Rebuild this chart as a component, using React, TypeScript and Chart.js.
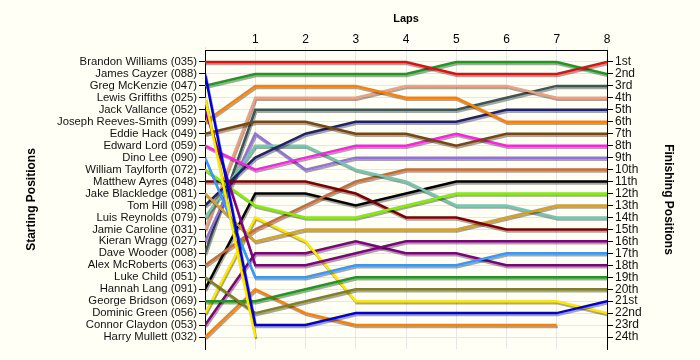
import React, { useEffect, useRef } from "react";
import { Chart, registerables } from "chart.js";

Chart.register(...registerables);

const laps = [0, 1, 2, 3, 4, 5, 6, 7, 8];
const lapLabels = ["", "1", "2", "3", "4", "5", "6", "7", "8"];

const drivers = [
  "Brandon Williams (035)",
  "James Cayzer (088)",
  "Greg McKenzie (047)",
  "Lewis Griffiths (025)",
  "Jack Vallance (052)",
  "Joseph Reeves-Smith (099)",
  "Eddie Hack (049)",
  "Edward Lord (059)",
  "Dino Lee (090)",
  "William Taylforth (072)",
  "Matthew Ayres (048)",
  "Jake Blackledge (081)",
  "Tom Hill (098)",
  "Luis Reynolds (079)",
  "Jamie Caroline (031)",
  "Kieran Wragg (027)",
  "Dave Wooder (008)",
  "Alex McRoberts (063)",
  "Luke Child (051)",
  "Hannah Lang (091)",
  "George Bridson (069)",
  "Dominic Green (056)",
  "Connor Claydon (053)",
  "Harry Mullett (032)",
];

const finishLabels = [
  "1st", "2nd", "3rd", "4th", "5th", "6th", "7th", "8th", "9th", "10th", "11th", "12th",
  "13th", "14th", "15th", "16th", "17th", "18th", "19th", "20th", "21st", "22nd", "23rd", "24th",
];

const colors = [
  "#e01010", "#0000dd", "#1c9a1c", "#ffe800", "#800080", "#ff8000",
  "#7a4510", "#ff20e8", "#3399ff", "#80f000", "#800000", "#d8a020",
  "#202070", "#70c8b0", "#f0a080", "#9370db", "#3d5555", "#cc6a30",
  "#808020", "#000000", "#1c9a1c", "#ffe800", "#800080", "#ff8000",
];

// positions per lap (0..8), null = retired
const brandon = [1, 1, 1, 1, 1, 2, 2, 2, 1];
const james = [2, 23, 23, 22, 22, 22, 22, 22, 21];
const greg = [3, 2, 2, 2, 2, 1, 1, 1, 2];
const lewis = [4, 24, null, null, null, null, null, null, null];
const jack = [5, 18, 18, 17, 16, 16, 16, 16, 16];
const joseph = [6, 3, 3, 3, 4, 4, 6, 6, 6];
const eddie = [7, 6, 6, 7, 7, 8, 7, 7, 7];
const edward = [8, 10, 9, 8, 8, 7, 8, 8, 8];
const dino = [9, 19, 19, 18, 18, 18, 17, 17, 17];
const william = [10, 13, 14, 14, 13, 12, 12, 12, 12];
const matthew = [11, 11, 11, 12, 14, 14, 15, 15, 15];
const jake = [12, 16, 15, 15, 15, 15, 14, 13, 13];
const tom = [13, 9, 7, 6, 6, 6, 5, 5, 5];
const luis = [14, 8, 8, 10, 11, 13, 13, 14, 14];
const jamie = [15, 4, 4, 4, 3, 3, 3, 4, 4];
const kieran = [16, 7, 10, 9, 9, 9, 9, 9, 9];
const dave = [17, 5, 5, 5, 5, 5, 4, 3, 3];
const alex = [18, 15, 13, 11, 10, 10, 10, 10, 10];
const luke = [19, 22, 21, 20, 20, 20, 20, 20, 20];
const hannah = [20, 12, 12, 13, 12, 11, 11, 11, 11];
const george = [21, 21, 20, 19, 19, 19, 19, 19, 19];
const dominic = [22, 14, 16, 21, 21, 21, 21, 21, 22];
const connor = [23, 17, 17, 16, 17, 17, 18, 18, 18];
const harry = [24, 20, 22, 23, 23, 23, 23, 23, null];

const series = [
  brandon, james, greg, lewis, jack, joseph, eddie, edward, dino, william, matthew, jake,
  tom, luis, jamie, kieran, dave, alex, luke, hannah, george, dominic, connor, harry,
];

const FONT = "'Liberation Sans', Arial, sans-serif";

const shadowPlugin = {
  id: "lineShadow",
  beforeDatasetsDraw(chart: any) {
    const ctx = chart.ctx;
    ctx.save();
    ctx.shadowColor = "rgba(0,0,0,0.35)";
    ctx.shadowOffsetX = 1;
    ctx.shadowOffsetY = 2;
    ctx.shadowBlur = 0;
  },
  afterDatasetsDraw(chart: any) {
    chart.ctx.restore();
  },
};

const bgPlugin = {
  id: "bg",
  beforeDraw(chart: any) {
    const ctx = chart.ctx;
    ctx.save();
    ctx.fillStyle = "#fffff5";
    ctx.fillRect(0, 0, chart.width, chart.height);
    ctx.restore();
  },
};

export default function App() {
  const ref = useRef<HTMLCanvasElement>(null);

  useEffect(() => {
    if (!ref.current) return;
    const datasets = series.map((d, i) => ({
      label: drivers[i],
      data: laps.map((l, j) => ({ x: l, y: d[j] })),
      borderColor: colors[i],
      backgroundColor: colors[i],
      borderWidth: 2.5,
      pointRadius: 0,
      tension: 0,
      fill: false,
      spanGaps: false,
      yAxisID: "y",
    }));
    const chart = new Chart(ref.current, {
      type: "line",
      data: { datasets },
      plugins: [bgPlugin, shadowPlugin],
      options: {
        animation: false,
        responsive: false,
        layout: { padding: { top: 0, bottom: 11, left: 0, right: 0 } },
        plugins: {
          legend: { display: false },
          tooltip: { enabled: false },
          title: { display: false },
        },
        scales: {
          x: {
            type: "linear",
            position: "top",
            min: 0,
            max: 8,
            ticks: {
              stepSize: 1,
              color: "#000",
              font: { family: FONT, size: 12 },
              padding: 0,
              callback: (v: any) => (v === 0 ? "" : lapLabels[v]),
            },
            grid: { color: "#e6e6e6", drawTicks: true, tickLength: 3, tickColor: "#e6e6e6" },
            border: { color: "#000", width: 1 },
            title: {
              display: true,
              text: "Laps",
              color: "#000",
              font: { family: FONT, size: 11, weight: "bold" },
              padding: { top: 12, bottom: 2 },
            },
            afterFit: (s: any) => {
              s.height = 50;
            },
          },
          y: {
            type: "linear",
            position: "left",
            reverse: true,
            min: 0,
            max: 25,
            ticks: {
              stepSize: 1,
              autoSkip: false,
              color: "#111",
              font: { family: FONT, size: 11.3 },
              padding: 2,
              callback: (v: any) => (v >= 1 && v <= 24 ? drivers[v - 1] : null),
            },
            grid: { color: "#e6e6e6", tickLength: 6, tickColor: "#000" },
            border: { color: "#000", width: 1 },
            title: {
              display: true,
              text: "Starting Positions",
              color: "#000",
              font: { family: FONT, size: 12, weight: "bold" },
              padding: { top: 24, bottom: 4 },
            },
            afterFit: (s: any) => {
              s.width = 205;
            },
          },
          y2: {
            type: "linear",
            position: "right",
            reverse: true,
            min: 0,
            max: 25,
            ticks: {
              stepSize: 1,
              autoSkip: false,
              color: "#111",
              font: { family: FONT, size: 12 },
              padding: 2,
              callback: (v: any) => (v >= 1 && v <= 24 ? finishLabels[v - 1] : null),
            },
            grid: { drawOnChartArea: false, tickLength: 6, tickColor: "#000" },
            border: { color: "#000", width: 1 },
            title: {
              display: true,
              text: "Finishing Positions",
              color: "#000",
              font: { family: FONT, size: 12, weight: "bold" },
              padding: { top: 24, bottom: 24 },
            },
            afterFit: (s: any) => {
              s.width = 93;
            },
          },
        },
      } as any,
    });
    return () => chart.destroy();
  }, []);

  return (
    <div style={{ position: "absolute", left: 0, top: 0, width: 700, height: 360 }}>
      <canvas ref={ref} width={700} height={360} style={{ width: 700, height: 360, display: "block" }} />
    </div>
  );
}
